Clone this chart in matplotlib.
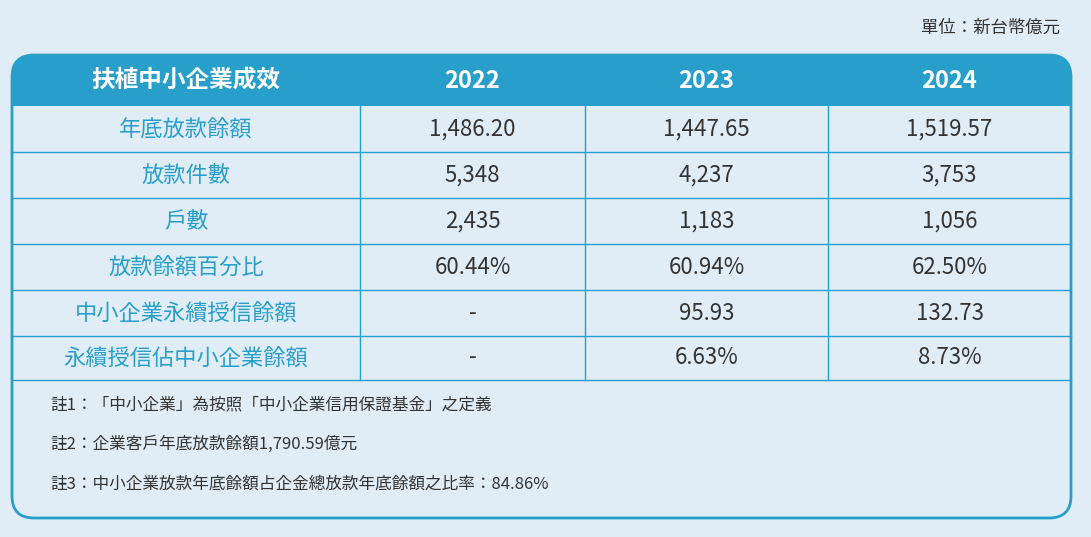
import matplotlib
matplotlib.use("Agg")
import matplotlib.pyplot as plt
from matplotlib import font_manager as fm
from matplotlib.patches import FancyBboxPatch, Rectangle

cjk = sorted({f.name for f in fm.fontManager.ttflist if "CJK" in f.name})
pref = [n for n in ["Noto Sans CJK TC", "Noto Sans CJK JP", "Noto Sans CJK SC", "Noto Sans CJK KR"] if n in cjk]
plt.rcParams["font.family"] = pref + cjk + ["DejaVu Sans"]

title = "扶植中小企業成效"
years = ["2022", "2023", "2024"]
row_labels = ["年底放款餘額", "放款件數", "戶數", "放款餘額百分比", "中小企業永續授信餘額", "永續授信佔中小企業餘額"]
values_2022 = ["1,486.20", "5,348", "2,435", "60.44%", "-", "-"]
values_2023 = ["1,447.65", "4,237", "1,183", "60.94%", "95.93", "6.63%"]
values_2024 = ["1,519.57", "3,753", "1,056", "62.50%", "132.73", "8.73%"]
notes = ["註1：「中小企業」為按照「中小企業信用保證基金」之定義",
         "註2：企業客戶年底放款餘額1,790.59億元",
         "註3：中小企業放款年底餘額占企金總放款年底餘額之比率：84.86%"]
unit = "單位：新台幣億元"

W, H = 1091, 537
BG = "#e1edf6"
BLUE = "#279fca"
fig = plt.figure(figsize=(W/100, H/100), dpi=100, facecolor=BG)
ax = fig.add_axes([0, 0, 1, 1])
ax.set_xlim(0, W); ax.set_ylim(H, 0); ax.axis("off")

ax.add_patch(FancyBboxPatch((12, 55), 1059, 80, boxstyle="round,pad=0,rounding_size=22",
                            fc=BLUE, ec="none", zorder=1))
ax.add_patch(Rectangle((12, 106), 1059, 60, fc=BG, ec="none", zorder=2))
ax.add_patch(Rectangle((12, 96), 1059, 10, fc=BLUE, ec="none", zorder=2))
ax.add_patch(FancyBboxPatch((12, 55), 1059, 463, boxstyle="round,pad=0,rounding_size=22",
                            fc="none", ec=BLUE, lw=2, zorder=5))

col_x = [12, 360, 585, 828, 1071]
centers = [(col_x[i] + col_x[i+1]) / 2 for i in range(4)]
row_y = [106, 152, 198, 244, 290, 336, 380]

for y in row_y[1:]:
    ax.plot([12, 1071], [y, y], color=BLUE, lw=1, zorder=3)
for x in col_x[1:4]:
    ax.plot([x, x], [106, 380], color=BLUE, lw=1, zorder=3)

hdr = [title] + years
for c, t in zip(centers, hdr):
    ax.text(c, 81, t, ha="center", va="center", color="white", fontsize=17,
            fontweight="bold", zorder=4)

cols = [values_2022, values_2023, values_2024]
for i, lab in enumerate(row_labels):
    yc = (row_y[i] + row_y[i+1]) / 2
    ax.text(centers[0], yc, lab, ha="center", va="center", color=BLUE, fontsize=16, zorder=4)
    for j in range(3):
        ax.text(centers[j+1], yc, cols[j][i], ha="center", va="center", color="#333333",
                fontsize=16, zorder=4)

for k, n in enumerate(notes):
    ax.text(50, 405 + 39.5*k, n, ha="left", va="center", color="#333333", fontsize=12, zorder=4)

ax.text(1060, 28, unit, ha="right", va="center", color="#333333", fontsize=12.5)

fig.savefig("out.png", dpi=100, facecolor=BG)
